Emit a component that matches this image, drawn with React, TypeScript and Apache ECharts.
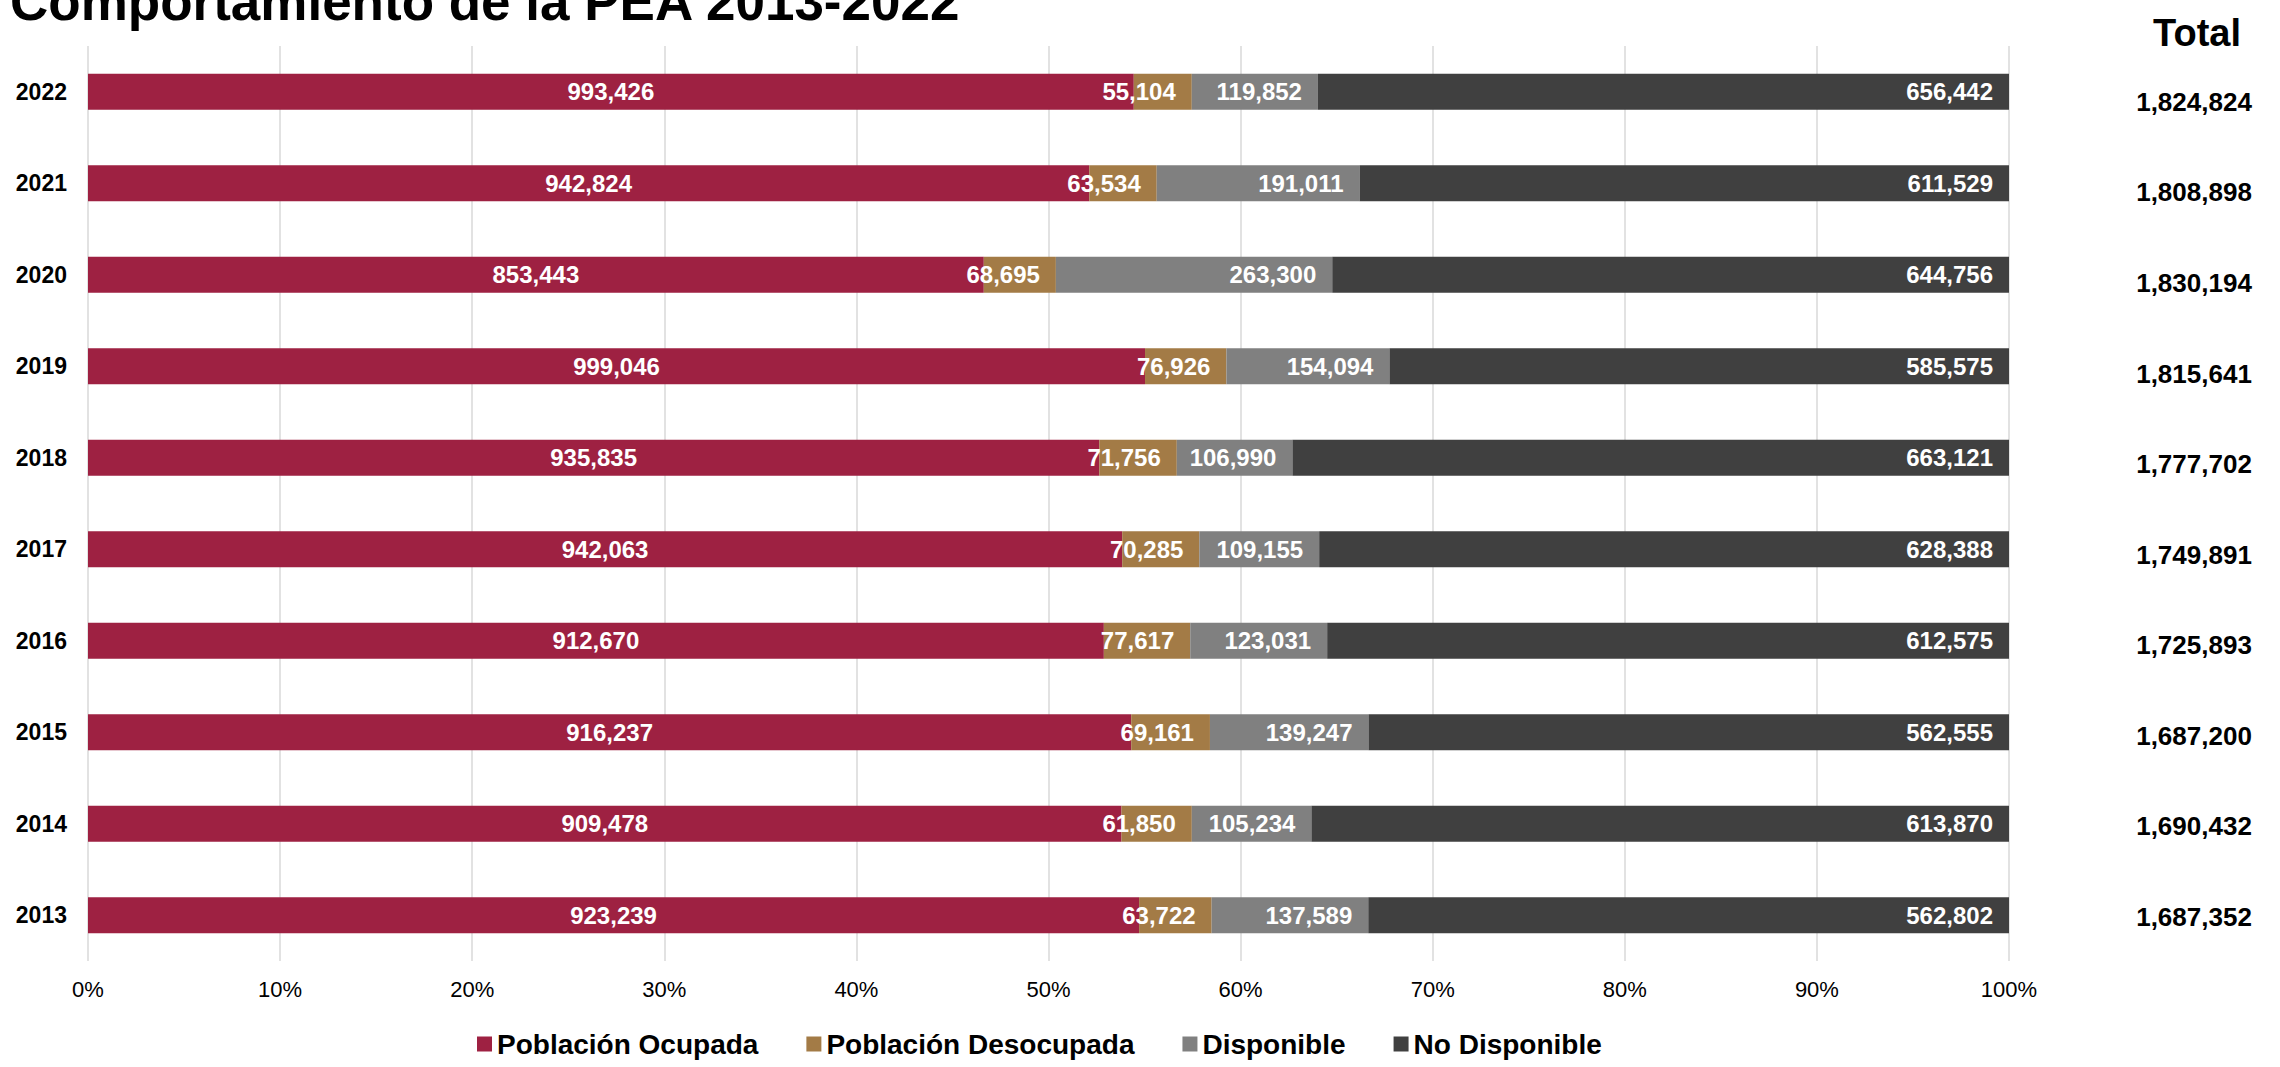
import React, { useEffect, useRef } from "react";
import * as echarts from "echarts";

const title = "Comportamiento de la PEA 2013-2022";
const totalHeader = "Total";
const years = ["2013", "2014", "2015", "2016", "2017", "2018", "2019", "2020", "2021", "2022"];
const ocupada = [923239, 909478, 916237, 912670, 942063, 935835, 999046, 853443, 942824, 993426];
const desocupada = [63722, 61850, 69161, 77617, 70285, 71756, 76926, 68695, 63534, 55104];
const disponible = [137589, 105234, 139247, 123031, 109155, 106990, 154094, 263300, 191011, 119852];
const noDisponible = [562802, 613870, 562555, 612575, 628388, 663121, 585575, 644756, 611529, 656442];
const totals = [1687352, 1690432, 1687200, 1725893, 1749891, 1777702, 1815641, 1830194, 1808898, 1824824];
const seriesNames = ["Población Ocupada", "Población Desocupada", "Disponible", "No Disponible"];
const seriesValues = [ocupada, desocupada, disponible, noDisponible];
const seriesColors = ["#9E2142", "#A37B46", "#808080", "#404040"];
const xTicks = [0, 10, 20, 30, 40, 50, 60, 70, 80, 90, 100];

const FONT = "'Liberation Sans', Arial, Helvetica, sans-serif";
const fmt = (n: number) => n.toLocaleString("en-US");

export default function App() {
  const ref = useRef<HTMLDivElement>(null);
  useEffect(() => {
    if (!ref.current) return;
    const chart = echarts.init(ref.current, null, { renderer: "svg" });
    const series: any[] = seriesValues.map((vals, si) => ({
      name: seriesNames[si],
      type: "bar",
      stack: "pea",
      xAxisIndex: 0,
      yAxisIndex: 0,
      barWidth: 36,
      itemStyle: { color: seriesColors[si] },
      label: {
        show: true,
        position: si === 0 ? "inside" : "insideRight",
        distance: 16,
        color: "#fff",
        fontSize: 24,
        fontWeight: "bold",
        fontFamily: FONT,
        formatter: (p: any) => fmt(vals[p.dataIndex]),
      },
      data: vals.map((v, i) => (v / totals[i]) * 100),
    }));
    chart.setOption({
      animation: false,
      backgroundColor: "#fff",
      textStyle: { fontFamily: FONT },
      graphic: [
        {
          type: "text",
          x: 10,
          y: 1,
          style: {
            text: title,
            font: `bold 53px ${FONT}`,
            fill: "#000",
            textAlign: "left",
            verticalAlign: "middle",
          },
        },
        {
          type: "text",
          x: 2197,
          y: 33,
          style: {
            text: totalHeader,
            font: `bold 38px ${FONT}`,
            fill: "#000",
            textAlign: "center",
            verticalAlign: "middle",
          },
        },
      ],
      legend: {
        data: seriesNames,
        left: 472,
        top: 1025,
        itemWidth: 15,
        itemHeight: 15,
        itemGap: 48,
        icon: "rect",
        textStyle: { fontSize: 28, fontWeight: "bold", color: "#000", fontFamily: FONT },
      },
      grid: [
        { left: 88, right: 271, top: 46, height: 915, containLabel: false },
        { left: 2194, width: 40, top: 56.6, height: 905.6, containLabel: false },
      ],
      xAxis: [
        {
          type: "value",
          gridIndex: 0,
          min: xTicks[0],
          max: xTicks[xTicks.length - 1],
          interval: 10,
          axisLine: { show: false },
          axisTick: { show: false },
          splitLine: { show: true, lineStyle: { color: "#D9D9D9", width: 1.5 } },
          axisLabel: {
            formatter: (v: number) => `${v}%`,
            fontSize: 22,
            color: "#000",
            margin: 17,
            fontFamily: FONT,
          },
        },
        { type: "value", gridIndex: 1, min: 0, max: 1, show: false },
      ],
      yAxis: [
        {
          type: "category",
          gridIndex: 0,
          data: years,
          axisLine: { show: false },
          axisTick: { show: false },
          axisLabel: { fontSize: 23, fontWeight: "bold", color: "#000", margin: 21, fontFamily: FONT },
        },
        {
          type: "category",
          gridIndex: 1,
          data: years,
          position: "left",
          axisLine: { show: false },
          axisTick: { show: false },
          splitLine: { show: false },
          axisLabel: {
            fontSize: 26,
            fontWeight: "bold",
            color: "#000",
            margin: 0,
            align: "center",
            fontFamily: FONT,
            formatter: (_v: string, idx: number) => fmt(totals[idx]),
          },
        },
      ],
      series,
    });
    return () => chart.dispose();
  }, []);
  return (
    <div
      ref={ref}
      style={{ position: "fixed", left: 0, top: 0, width: 2280, height: 1067, background: "#fff" }}
    />
  );
}
